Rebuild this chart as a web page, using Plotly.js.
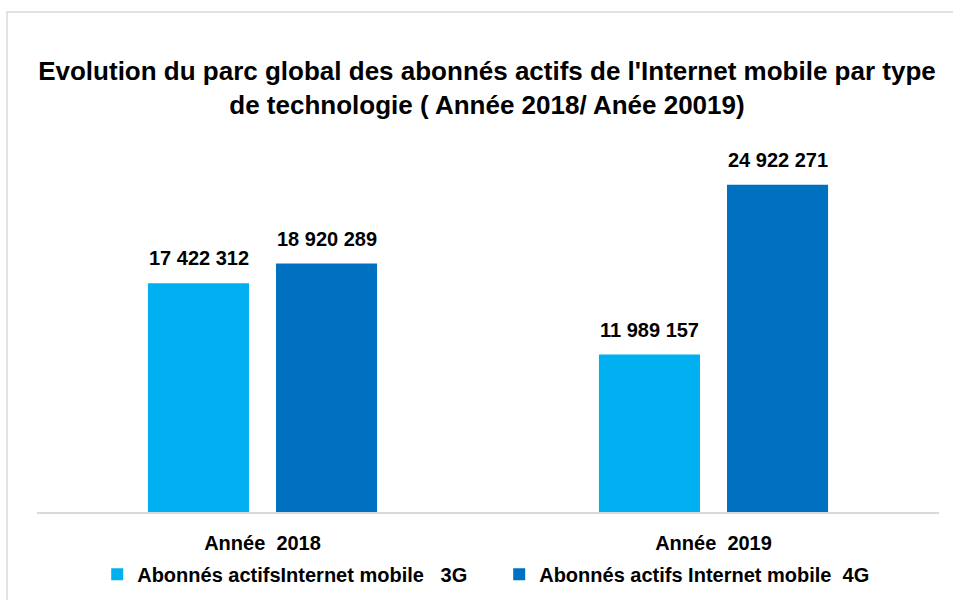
<!DOCTYPE html>
<html>
<head>
<meta charset="utf-8">
<script src="https://cdn.plot.ly/plotly-3.0.1.min.js"></script>
<style>html,body{margin:0;padding:0;background:#fff;}#chart{width:953px;height:600px;}</style>
</head>
<body>
<div id="chart"></div>
<script>
const categories = ["Année  2018", "Année  2019"];
const series3GName = "Abonnés actifsInternet mobile   3G";
const series4GName = "Abonnés actifs Internet mobile  4G";
const values3G = [17422312, 11989157];
const values4G = [18920289, 24922271];

function fmt(v){ return String(v).replace(/\B(?=(\d{3})+(?!\d))/g, " "); }

const FONT = "Liberation Sans, Arial, sans-serif";
const traces = [
  {type:"bar", name:series3GName, x:categories, y:values3G, marker:{color:"#00B0F0"}, hoverinfo:"none"},
  {type:"bar", name:series4GName, x:categories, y:values4G, marker:{color:"#0070C0"}, hoverinfo:"none"}
];

const annotations = [];
[values3G, values4G].forEach((vals, si) => {
  vals.forEach((v, i) => {
    annotations.push({x:categories[i], y:v, xref:"x", yref:"y", text:"<b>"+fmt(v)+"</b>",
      showarrow:false, yanchor:"bottom", xshift: si===0 ? -64 : 64, yshift:12,
      font:{family:FONT, size:20, color:"#000"}});
  });
});

const layout = {
  width:953, height:600,
  paper_bgcolor:"#fff", plot_bgcolor:"#fff",
  margin:{l:37, r:14, t:118, b:88},
  title:{text:"<b>Evolution du parc global des abonnés actifs de l'Internet mobile par type<br>de technologie ( Année 2018/ Anée 20019)</b>",
    font:{family:FONT, size:26, color:"#000"}, xref:"container", x:0.511, xanchor:"center", yref:"container", y:0.867, yanchor:"middle"},
  barmode:"group", bargap:0.432, bargroupgap:0.211,
  xaxis:{showline:true, linecolor:"#d9d9d9", linewidth:2, ticks:"outside", ticklen:12, tickcolor:"rgba(0,0,0,0)",
    tickfont:{family:FONT, size:20, color:"#000", weight:"bold"}, showgrid:false, zeroline:false, fixedrange:true},
  yaxis:{range:[0,30000000], visible:false, showgrid:false, zeroline:false, fixedrange:true},
  showlegend:true,
  legend:{orientation:"h", xref:"container", yref:"container", x:0.102, xanchor:"left", y:0.043, yanchor:"middle",
    font:{family:FONT, size:20, color:"#000", weight:"bold"}, itemwidth:30, entrywidth:357, entrywidthmode:"pixels", traceorder:"normal"},
  annotations:annotations,
  shapes:[{type:"rect", xref:"paper", yref:"paper", x0:-0.0333, x1:1.03, y0:-0.26, y1:1.269,
    line:{color:"#d9d9d9", width:1.5}, fillcolor:"rgba(0,0,0,0)"}]
};

Plotly.newPlot("chart", traces, layout, {displayModeBar:false, staticPlot:true});
</script>
</body>
</html>
